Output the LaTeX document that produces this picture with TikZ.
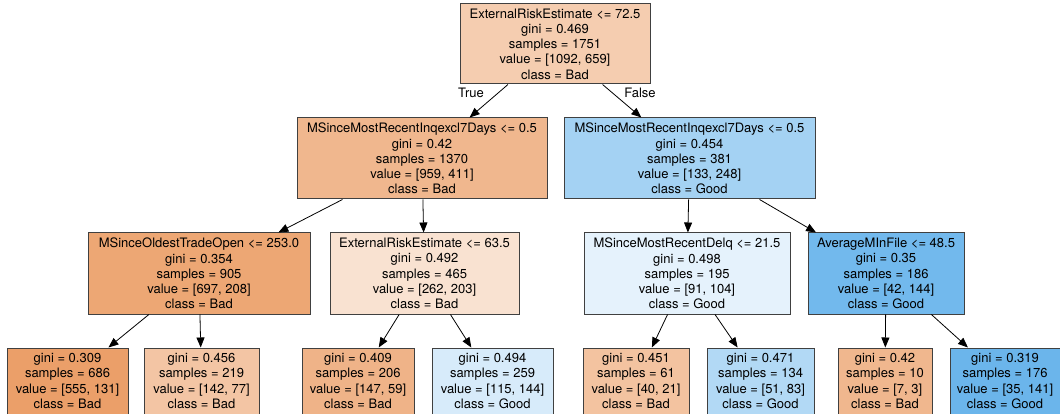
\documentclass[tikz,border=0pt]{standalone}
\usepackage{fontspec}
\setmainfont{TeX Gyre Heros}
\usetikzlibrary{calc,arrows.meta}
\definecolor{bad}{RGB}{229,129,57}
\definecolor{good}{RGB}{57,157,229}
\def\drawedge{\draw[-{Triangle[length=10pt,width=8pt]}, line width=0.8pt]}
\def\splitnode{\node[split]}
\def\leafnode{\node[leaf]}

\begin{document}
\begin{tikzpicture}[x=1pt,y=-1pt,
  box/.style={draw=black!75, line width=1pt, align=center, inner sep=0pt,
    font=\fontsize{13}{15.2}\selectfont},
  split/.style={box, minimum height=81pt},
  leaf/.style={box, minimum height=66pt}]
\useasboundingbox (0,0) rectangle (1060,414);

% -------- root ---------
\splitnode[fill=bad!40, minimum width=190pt, minimum height=80pt] (root) at (555,44)
  {ExternalRiskEstimate <= 72.5\\gini = 0.469\\samples = 1751\\value = [1092, 659]\\class = Bad};

% -------- first split ---------
\splitnode[fill=bad!57, minimum width=250pt] (left) at (422,158.5)
  {MSinceMostRecentInqexcl7Days <= 0.5\\gini = 0.42\\samples = 1370\\value = [959, 411]\\class = Bad};
\splitnode[fill=good!46, minimum width=251pt] (right) at (689.5,158.5)
  {MSinceMostRecentInqexcl7Days <= 0.5\\gini = 0.454\\samples = 381\\value = [133, 248]\\class = Good};

% -------- second split ---------
\splitnode[fill=bad!70, minimum width=222pt] (left_left) at (199,273.5)
  {MSinceOldestTradeOpen <= 253.0\\gini = 0.354\\samples = 905\\value = [697, 208]\\class = Bad};
\splitnode[fill=bad!23, minimum width=189pt] (left_right) at (424.5,273.5)
  {ExternalRiskEstimate <= 63.5\\gini = 0.492\\samples = 465\\value = [262, 203]\\class = Bad};
\splitnode[fill=good!13, minimum width=206pt] (right_left) at (687,273.5)
  {MSinceMostRecentDelq <= 21.5\\gini = 0.498\\samples = 195\\value = [91, 104]\\class = Good};
\splitnode[fill=good!71, minimum width=156pt] (right_right) at (886,273.5)
  {AverageMInFile <= 48.5\\gini = 0.35\\samples = 186\\value = [42, 144]\\class = Good};

% -------- leaves ---------
\leafnode[fill=bad!76, minimum width=121pt] (leaf_a) at (67.5,381)
  {gini = 0.309\\samples = 686\\value = [555, 131]\\class = Bad};
\leafnode[fill=bad!46, minimum width=115pt] (leaf_b) at (201.5,381)
  {gini = 0.456\\samples = 219\\value = [142, 77]\\class = Bad};
\leafnode[fill=bad!60, minimum width=112pt] (leaf_c) at (358,381)
  {gini = 0.409\\samples = 206\\value = [147, 59]\\class = Bad};
\leafnode[fill=good!20, minimum width=121pt] (leaf_d) at (492.5,381)
  {gini = 0.494\\samples = 259\\value = [115, 144]\\class = Good};
\leafnode[fill=bad!48, minimum width=106pt] (leaf_e) at (636,381)
  {gini = 0.451\\samples = 61\\value = [40, 21]\\class = Bad};
\leafnode[fill=good!39, minimum width=107pt] (leaf_f) at (760.5,381)
  {gini = 0.471\\samples = 134\\value = [51, 83]\\class = Good};
\leafnode[fill=bad!57, minimum width=94pt] (leaf_g) at (885,381)
  {gini = 0.42\\samples = 10\\value = [7, 3]\\class = Bad};
\leafnode[fill=good!75, minimum width=110pt] (leaf_h) at (1005,381)
  {gini = 0.319\\samples = 176\\value = [35, 141]\\class = Good};

% edges, centre to centre like graphviz
\drawedge (root) -- (left);
\drawedge (root) -- (right);
\node[font=\fontsize{13}{15.2}\selectfont] (true_lbl) at (471,93) {True};
\node[font=\fontsize{13}{15.2}\selectfont] (false_lbl) at (640,93) {False};
\drawedge (left) -- (left_left);
\drawedge (left) -- (left_right);
\drawedge (right) -- (right_left);
\drawedge (right) -- (right_right);
\drawedge (left_left) -- (leaf_a);
\drawedge (left_left) -- (leaf_b);
\drawedge (left_right) -- (leaf_c);
\drawedge (left_right) -- (leaf_d);
\drawedge (right_left) -- (leaf_e);
\drawedge (right_left) -- (leaf_f);
\drawedge (right_right) -- (leaf_g);
\drawedge (right_right) -- (leaf_h);
\end{tikzpicture}
\end{document}
